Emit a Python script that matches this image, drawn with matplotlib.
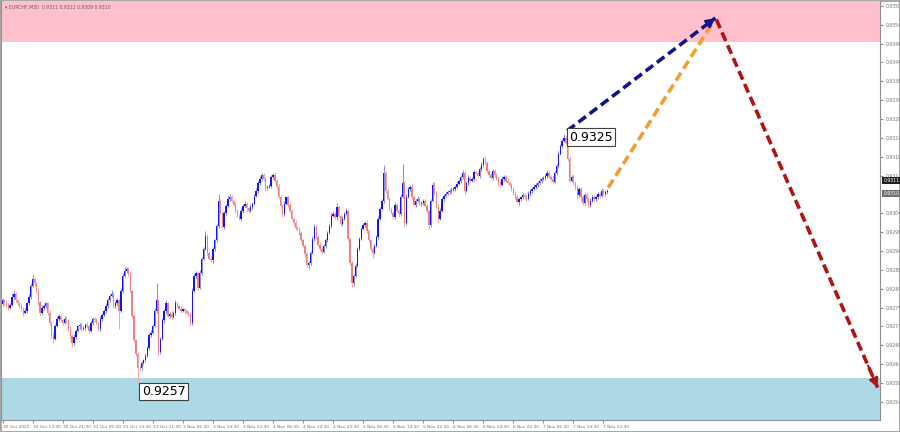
import matplotlib
matplotlib.use('Agg')
import matplotlib.pyplot as plt
import matplotlib.transforms as mtransforms

# EURCHF M30 closes, one row per 16 bars (8 hours)
closes = [
    0.92809, 0.92804, 0.92795, 0.92790, 0.92798, 0.92819, 0.92827, 0.92809, 0.92801, 0.92795, 0.92787, 0.92777, 0.92782, 0.92801, 0.92817, 0.92848,
    0.92867, 0.92854, 0.92835, 0.92804, 0.92777, 0.92788, 0.92795, 0.92801, 0.92777, 0.92750, 0.92716, 0.92708, 0.92742, 0.92761, 0.92769, 0.92756,
    0.92750, 0.92761, 0.92756, 0.92734, 0.92716, 0.92697, 0.92713, 0.92729, 0.92740, 0.92745, 0.92734, 0.92737, 0.92745, 0.92740, 0.92729, 0.92750,
    0.92761, 0.92756, 0.92750, 0.92734, 0.92761, 0.92771, 0.92782, 0.92795, 0.92809, 0.92822, 0.92827, 0.92795, 0.92803, 0.92809, 0.92782, 0.92835,
    0.92875, 0.92888, 0.92893, 0.92880, 0.92835, 0.92769, 0.92703, 0.92668, 0.92631, 0.92629, 0.92644, 0.92650, 0.92663, 0.92684, 0.92718, 0.92724,
    0.92742, 0.92782, 0.92809, 0.92671, 0.92708, 0.92756, 0.92782, 0.92801, 0.92769, 0.92774, 0.92766, 0.92777, 0.92801, 0.92793, 0.92787, 0.92782,
    0.92785, 0.92780, 0.92777, 0.92772, 0.92750, 0.92835, 0.92875, 0.92883, 0.92843, 0.92883, 0.92920, 0.92946, 0.92981, 0.92936, 0.92920, 0.92915,
    0.92946, 0.92968, 0.93007, 0.93074, 0.93042, 0.93005, 0.93040, 0.93060, 0.93079, 0.93084, 0.93074, 0.93063, 0.93047, 0.93034, 0.93026, 0.93047,
    0.93060, 0.93066, 0.93053, 0.93047, 0.93058, 0.93066, 0.93087, 0.93100, 0.93121, 0.93132, 0.93142, 0.93132, 0.93108, 0.93111, 0.93113, 0.93137,
    0.93142, 0.93127, 0.93111, 0.93084, 0.93060, 0.93039, 0.93066, 0.93082, 0.93063, 0.93047, 0.93026, 0.93015, 0.93002, 0.92999, 0.92989, 0.92968,
    0.92954, 0.92931, 0.92904, 0.92909, 0.92936, 0.92973, 0.93005, 0.92978, 0.92957, 0.92946, 0.92938, 0.92954, 0.92968, 0.92989, 0.93007, 0.93034,
    0.93039, 0.93029, 0.93058, 0.93034, 0.93013, 0.93026, 0.93039, 0.93047, 0.92973, 0.92909, 0.92854, 0.92875, 0.92901, 0.92946, 0.92973, 0.92999,
    0.93010, 0.93015, 0.92994, 0.92968, 0.92946, 0.92936, 0.92954, 0.92978, 0.93026, 0.93052, 0.93074, 0.93148, 0.93100, 0.93079, 0.93052, 0.93042,
    0.93031, 0.93063, 0.93047, 0.93037, 0.93084, 0.93121, 0.93015, 0.93084, 0.93105, 0.93111, 0.93084, 0.93063, 0.93074, 0.93079, 0.93066, 0.93068,
    0.93074, 0.93060, 0.93047, 0.93010, 0.93074, 0.93116, 0.93095, 0.93060, 0.93026, 0.93047, 0.93079, 0.93087, 0.93092, 0.93097, 0.93100, 0.93103,
    0.93105, 0.93111, 0.93119, 0.93127, 0.93137, 0.93148, 0.93100, 0.93121, 0.93135, 0.93127, 0.93132, 0.93150, 0.93148, 0.93140, 0.93158, 0.93169,
    0.93185, 0.93174, 0.93153, 0.93142, 0.93134, 0.93153, 0.93142, 0.93132, 0.93121, 0.93116, 0.93132, 0.93137, 0.93127, 0.93121, 0.93116, 0.93105,
    0.93095, 0.93084, 0.93071, 0.93079, 0.93082, 0.93089, 0.93084, 0.93079, 0.93092, 0.93100, 0.93105, 0.93111, 0.93116, 0.93121, 0.93127, 0.93132,
    0.93134, 0.93140, 0.93148, 0.93137, 0.93132, 0.93124, 0.93148, 0.93166, 0.93198, 0.93219, 0.93233, 0.93240, 0.93227, 0.93185, 0.93127, 0.93137,
    0.93121, 0.93111, 0.93089, 0.93105, 0.93084, 0.93068, 0.93089, 0.93079, 0.93063, 0.93074, 0.93084, 0.93079, 0.93082, 0.93092, 0.93087, 0.93100,
    0.93092, 0.93097, 0.93100,
]
first_open = 0.92800

# wick lengths above / below the body, in points (0.00001)
wick_up = [
    6, 4, 5, 8, 3, 10, 6, 4, 5, 3, 6, 4, 7, 5, 8, 6,
    12, 5, 4, 6, 3, 8, 5, 4, 3, 6, 4, 10, 5, 7, 4, 5,
    4, 6, 3, 5, 7, 4, 6, 5, 3, 4, 6, 5, 4, 6, 3, 5,
    5, 4, 6, 3, 8, 5, 4, 7, 6, 5, 10, 4, 5, 6, 4, 8,
    6, 10, 5, 4, 6, 3, 5, 4, 3, 6, 5, 4, 6, 5, 4, 7,
    4, 6, 45, 5, 4, 6, 5, 8, 4, 5, 6, 4, 9, 5, 4, 6,
    5, 4, 6, 3, 5, 8, 6, 4, 5, 7, 4, 6, 12, 5, 4, 6,
    5, 4, 6, 18, 5, 4, 6, 5, 8, 6, 4, 5, 6, 4, 5, 6,
    4, 6, 5, 3, 6, 4, 5, 6, 4, 7, 5, 6, 4, 5, 6, 4,
    6, 5, 4, 6, 5, 4, 8, 5, 4, 6, 5, 4, 6, 5, 4, 5,
    5, 4, 6, 5, 4, 6, 8, 5, 4, 6, 5, 4, 6, 5, 4, 6,
    6, 4, 10, 5, 4, 6, 5, 6, 4, 5, 4, 5, 6, 5, 4, 6,
    5, 4, 6, 5, 4, 6, 5, 4, 6, 5, 4, 20, 5, 6, 4, 5,
    4, 6, 5, 4, 6, 50, 5, 6, 4, 5, 6, 4, 5, 6, 4, 5,
    5, 4, 6, 5, 4, 8, 6, 4, 5, 6, 4, 5, 6, 4, 5, 6,
    4, 5, 6, 4, 5, 6, 5, 4, 6, 5, 4, 6, 5, 4, 6, 8,
    5, 6, 4, 5, 6, 4, 5, 6, 4, 5, 6, 4, 5, 6, 4, 5,
    4, 5, 6, 4, 5, 6, 4, 5, 6, 4, 5, 6, 4, 5, 6, 4,
    5, 4, 6, 5, 4, 6, 5, 4, 6, 5, 4, 11, 5, 4, 6, 5,
    6, 5, 4, 6, 5, 4, 6, 5, 4, 6, 5, 4, 6, 5, 4, 6,
    5, 4, 5,
]
wick_dn = [
    5, 6, 4, 7, 5, 3, 6, 5, 4, 6, 5, 8, 4, 6, 5, 4,
    4, 6, 5, 8, 6, 4, 5, 7, 6, 5, 9, 12, 5, 4, 6, 5,
    5, 4, 6, 5, 8, 12, 6, 5, 4, 6, 5, 4, 6, 5, 7, 4,
    6, 5, 4, 7, 5, 6, 4, 5, 6, 4, 5, 7, 6, 5, 50, 4,
    5, 4, 6, 5, 4, 6, 5, 6, 41, 8, 5, 6, 5, 4, 6, 5,
    5, 4, 6, 8, 5, 4, 6, 5, 4, 6, 5, 4, 6, 5, 4, 6,
    4, 6, 5, 4, 8, 5, 4, 6, 5, 4, 6, 5, 4, 6, 5, 4,
    6, 5, 4, 6, 5, 4, 6, 5, 4, 6, 5, 4, 6, 5, 4, 6,
    5, 4, 6, 5, 4, 6, 5, 4, 6, 5, 4, 6, 10, 5, 4, 6,
    5, 4, 6, 5, 4, 8, 5, 4, 6, 5, 4, 6, 5, 4, 6, 5,
    4, 6, 5, 12, 5, 4, 6, 5, 4, 6, 5, 4, 6, 5, 4, 6,
    5, 4, 6, 5, 4, 6, 5, 4, 6, 5, 10, 8, 5, 4, 6, 5,
    4, 6, 5, 4, 6, 15, 5, 4, 6, 5, 4, 6, 5, 4, 6, 5,
    6, 5, 4, 6, 5, 4, 10, 5, 4, 6, 5, 4, 6, 5, 4, 6,
    5, 4, 6, 12, 5, 4, 6, 5, 8, 5, 4, 6, 5, 4, 6, 5,
    4, 6, 5, 4, 6, 5, 12, 4, 6, 5, 4, 6, 5, 4, 6, 5,
    5, 4, 6, 5, 4, 6, 5, 4, 6, 5, 4, 6, 5, 4, 6, 5,
    6, 5, 4, 8, 5, 4, 6, 5, 4, 6, 5, 4, 6, 5, 4, 6,
    4, 6, 5, 4, 6, 5, 4, 6, 5, 4, 6, 5, 4, 6, 5, 4,
    6, 8, 12, 5, 10, 6, 5, 8, 6, 5, 4, 6, 5, 4, 6, 5,
    4, 6, 5,
]

time_labels = ['30 Oct 2025', '30 Oct 13:30', '30 Oct 21:30', '31 Oct 05:30', '31 Oct 13:30',
               '31 Oct 21:30', '3 Nov 06:30', '3 Nov 14:30', '3 Nov 22:30', '4 Nov 06:30',
               '4 Nov 14:30', '4 Nov 22:30', '5 Nov 06:30', '5 Nov 14:30', '5 Nov 22:30',
               '6 Nov 06:30', '6 Nov 14:30', '6 Nov 22:30', '7 Nov 06:30', '7 Nov 14:30',
               '7 Nov 22:30']
# 0.9309 sits under the price tags, as in the terminal
price_labels = ['0.9359', '0.9354', '0.9349', '0.9344', '0.9339', '0.9334', '0.9329', '0.9324',
                '0.9319', '0.9314', '0.9304', '0.9299', '0.9294', '0.9289', '0.9284',
                '0.9279', '0.9274', '0.9269', '0.9264', '0.9259', '0.9254']

resistance_zone = (0.93494, 0.93700)
support_zone = (0.92400, 0.92603)
low_mark = 0.9257
high_mark = 0.9325
forecast_peak = 0.93558
forecast_target = 0.92578

fig = plt.figure(figsize=(9, 4.32), dpi=100, linewidth=1, edgecolor='#a8a8a8')
ax = fig.add_axes([0.001, 12 / 432, 879 / 900, 419 / 432])
ax.set_xlim(-0.9, 467.2)
ax.set_ylim(0.92492, 0.93603)

ax.axhspan(*resistance_zone, color='#ffc0cb', lw=0, zorder=0)
ax.axhspan(*support_zone, color='#add8e6', lw=0, zorder=0)

# candles
opens = [first_open] + closes[:-1]
for i, (o, c) in enumerate(zip(opens, closes)):
    hi = max(o, c) + wick_up[i] * 1e-5
    lo = min(o, c) - wick_dn[i] * 1e-5
    bull = c >= o
    body_col = '#1414ff' if bull else '#f08080'
    wick_col = '#8c8cf0' if bull else '#f2a8a8'
    ax.vlines(i, lo, hi, color=wick_col, lw=0.75, zorder=2)
    h = max(abs(c - o), 0.000015)
    ax.bar(i, h, bottom=min(o, c), width=0.72, color=body_col, lw=0, zorder=3)

# forecast arrows
i_high = 300.7
i_last = len(closes) - 0.5
i_peak = 379.6
i_end = 466.0


def dashed_arrow(x0, y0, x1, y1, color, head=True):
    ax.plot([x0, x1], [y0, y1], color=color, lw=2.6, ls=(0, (2.6, 1.3)), zorder=5,
            solid_capstyle='butt', dash_capstyle='butt')
    if head:
        ax.annotate('', xy=(x1, y1), xytext=(x1 - (x1 - x0) * 0.06, y1 - (y1 - y0) * 0.06),
                    arrowprops=dict(arrowstyle='-|>', color=color, lw=1.5,
                                    mutation_scale=14, shrinkA=0, shrinkB=0), zorder=6)


dashed_arrow(i_last, 0.93108, i_peak - 1.5, 0.93545, '#f0a030', head=False)
dashed_arrow(i_high, 0.93259, i_peak, forecast_peak, '#14148c')
dashed_arrow(i_peak + 0.5, forecast_peak - 0.00004, i_end, forecast_target, '#b01414')

# price marks
box = dict(boxstyle='square,pad=0.18', fc='white', ec='#404040', lw=0.8)
ax.text(301.8, 0.93242, f'{high_mark:.4f}', fontsize=9, va='center', ha='left', bbox=box, zorder=7)
ax.text(74.1, 0.92567, f'{low_mark:.4f}', fontsize=9, va='center', ha='left', bbox=box, zorder=7)

# title
ax.text(0.005, 0.99, '\u25be EURCHF,M30  0.9311 0.9312 0.9309 0.9310', transform=ax.transAxes,
        fontsize=3.3, color='#606060', va='top', ha='left')

# axes styling
ax.spines['top'].set_visible(False)
for s in ['left', 'right', 'bottom']:
    ax.spines[s].set_color('#909090')
    ax.spines[s].set_linewidth(0.8)

ax.yaxis.tick_right()
ax.set_yticks([float(p) for p in price_labels])
ax.set_yticklabels(price_labels)
ax.tick_params(axis='y', labelsize=3.3, labelcolor='#707070', color='#909090', length=2, pad=2)

ax.set_xticks([16 * k for k in range(len(time_labels))])
ax.set_xticklabels(time_labels, ha='left')
ax.tick_params(axis='x', labelsize=3.1, labelcolor='#707070', color='#909090', length=2, pad=1.5)

# current price tags on the right scale
trans = mtransforms.blended_transform_factory(ax.transAxes, ax.transData)
ax.text(1.004, 0.93128, '0.9311', transform=trans, fontsize=3.3, color='white', va='center',
        ha='left', bbox=dict(boxstyle='square,pad=0.2', fc='#202020', ec='none'), zorder=8)
ax.text(1.004, 0.93093, '0.9310', transform=trans, fontsize=3.3, color='white', va='center',
        ha='left', bbox=dict(boxstyle='square,pad=0.2', fc='#707070', ec='none'), zorder=8)

fig.savefig('out.png', dpi=100, facecolor='white', edgecolor=fig.get_edgecolor())
